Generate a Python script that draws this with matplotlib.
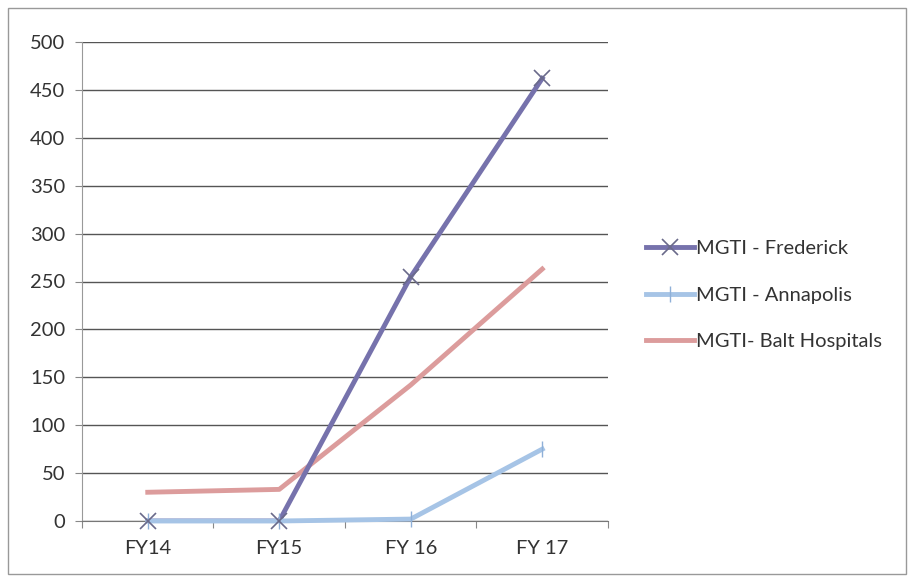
import matplotlib.pyplot as plt
from matplotlib.patches import Rectangle

years = ['FY14', 'FY15', 'FY 16', 'FY 17']
frederick = [0, 0, 255, 462]
annapolis = [0, 0, 2, 75]
balt = [30, 33, 142, 263]

plt.rcParams['font.family'] = ['Lato', 'DejaVu Sans']

fig = plt.figure(figsize=(9.12, 5.82), dpi=100)
ax = fig.add_axes([82 / 912, 1 - 521 / 582, (608 - 82) / 912, (521 - 42) / 582])

x = range(len(years))
ax.plot(x, balt, color='#dc9c9c', lw=3.5, label='MGTI- Balt Hospitals', zorder=2)
ax.plot(x, annapolis, color='#a6c4e6', lw=3.5, marker='|', ms=11, mew=1.0,
        mec='#8fb0d8', label='MGTI - Annapolis', zorder=3, clip_on=False)
# frederick line under annapolis, but its markers on top (as in the scan)
ax.plot(x, frederick, color='#7672ac', lw=3.5, zorder=2.5)
ax.plot(x, frederick, ls='none', marker='x', ms=11, mew=1.2, mec='#6a6a8a',
        zorder=4, clip_on=False)

# legend in the original order
h_f, = ax.plot([], [], color='#7672ac', lw=3.5, marker='x', ms=11, mew=1.2,
               mec='#6a6a8a', label='MGTI - Frederick')
handles, labels = ax.get_legend_handles_labels()
order = [labels.index('MGTI - Frederick'), labels.index('MGTI - Annapolis'),
         labels.index('MGTI- Balt Hospitals')]

ax.set_xlim(-0.5, len(years) - 0.5)
ax.set_ylim(0, 500)
ax.set_yticks(range(0, 501, 50))
ax.set_xticks([i - 0.5 for i in range(len(years) + 1)], minor=False)
ax.set_xticklabels([])
ax.set_xticks(list(x), minor=True)
ax.set_xticklabels(years, minor=True)
ax.tick_params(axis='x', which='minor', length=0, pad=14, labelsize=14.5, labelcolor='#333333')
ax.tick_params(axis='x', which='major', length=5, color='#888888', direction='out')
ax.tick_params(axis='y', length=5, color='#888888', labelsize=14.5, labelcolor='#333333', pad=7)

ax.grid(axis='y', color='#555555', lw=1.0)
for side in ['top', 'right']:
    ax.spines[side].set_visible(False)
ax.spines['left'].set_color('#999999')
ax.spines['bottom'].set_color('#777777')

leg = fig.legend([handles[i] for i in order], [labels[i] for i in order],
                 loc='center left', bbox_to_anchor=(628 / 912, 1 - 295 / 582),
                 frameon=False, fontsize=14.5, handlelength=2.4, handletextpad=0.1,
                 labelspacing=1.45)
for t in leg.get_texts():
    t.set_color('#333333')

fig.patches.append(Rectangle((8 / 912, 8 / 582), 898 / 912, 566 / 582,
                             transform=fig.transFigure, fill=False,
                             edgecolor='#999999', lw=1))

fig.savefig('out.png', dpi=100)
